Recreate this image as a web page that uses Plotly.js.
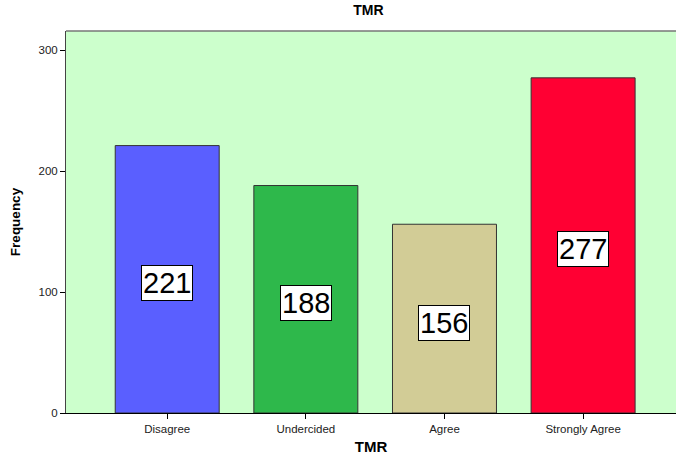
<!DOCTYPE html>
<html>
<head>
<meta charset="utf-8">
<script src="https://cdn.plot.ly/plotly-3.0.1.min.js"></script>
<style>html,body{margin:0;padding:0;background:#fff;}#chart{width:676px;height:455px;}</style>
</head>
<body>
<div id="chart"></div>
<script>
const categories = ["Disagree", "Undercided", "Agree", "Strongly Agree"];
const frequencies = [221, 188, 156, 277];
const barColors = ["#5a5fff", "#2eb84b", "#d2cc96", "#ff0033"];
const yTicks = [0, 100, 200, 300];

const trace = {
  type: "bar",
  x: categories,
  y: frequencies,
  width: 0.75,
  marker: { color: barColors, line: { color: "#333333", width: 1 } },
  hoverinfo: "none"
};

const annotations = categories.map((c, i) => ({
  x: c,
  y: frequencies[i] / 2,
  xref: "x",
  yref: "y",
  yshift: -4,
  text: String(frequencies[i]),
  showarrow: false,
  font: { family: "Liberation Sans, Arial, sans-serif", size: 29, color: "#000" },
  bgcolor: "#ffffff",
  bordercolor: "#000000",
  borderwidth: 1,
  borderpad: 1
}));

const layout = {
  width: 676,
  height: 455,
  margin: { l: 66, r: 0, t: 31, b: 42 },
  paper_bgcolor: "#ffffff",
  plot_bgcolor: "#ccffcc",
  showlegend: false,
  title: {
    text: "<b>TMR</b>",
    font: { family: "Liberation Sans, Arial, sans-serif", size: 14, color: "#000" },
    x: 0.545, xanchor: "center", y: 0.978, yanchor: "middle"
  },
  xaxis: {
    range: [-0.73, 3.67],
    showgrid: false,
    zeroline: false,
    showline: true,
    linecolor: "#000",
    linewidth: 1,
    ticks: "outside",
    ticklen: 5,
    tickcolor: "#000",
    tickfont: { family: "Liberation Sans, Arial, sans-serif", size: 11.5, color: "#222" },
    title: { text: "<b>TMR</b>", font: { family: "Liberation Sans, Arial, sans-serif", size: 15, color: "#000" }, standoff: 10 }
  },
  yaxis: {
    range: [0, 315.7],
    tickvals: yTicks,
    showgrid: false,
    zeroline: false,
    showline: true,
    linecolor: "#444",
    linewidth: 1,
    ticks: "outside",
    ticklen: 5,
    tickcolor: "#000",
    tickfont: { family: "Liberation Sans, Arial, sans-serif", size: 11.5, color: "#222" },
    title: { text: "<b>Frequency</b>", font: { family: "Liberation Sans, Arial, sans-serif", size: 13.5, color: "#000" }, standoff: 14 }
  },
  shapes: [{
    type: "line", xref: "paper", yref: "paper", x0: 0, x1: 1, y0: 1, y1: 1,
    line: { color: "#777", width: 1.5 }
  }],
  annotations: annotations
};

Plotly.newPlot("chart", [trace], layout, { displayModeBar: false, staticPlot: true });
</script>
</body>
</html>
